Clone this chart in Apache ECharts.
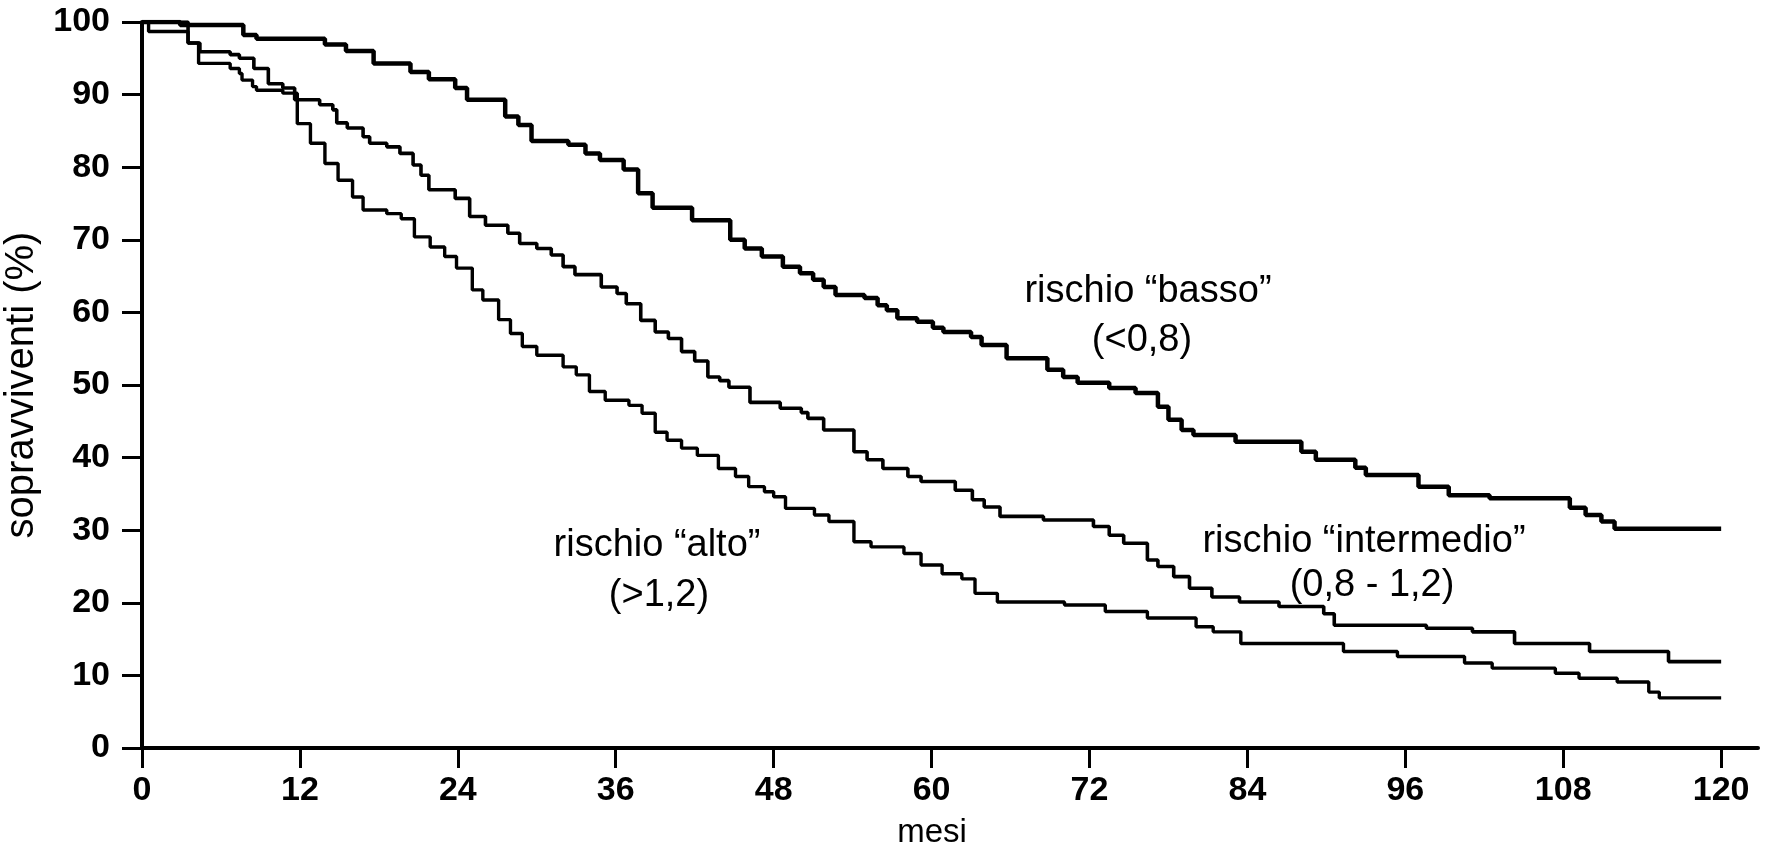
<!DOCTYPE html>
<html>
<head>
<meta charset="utf-8">
<script src="https://cdn.jsdelivr.net/npm/echarts@6/dist/echarts.min.js"></script>
<style>
  html, body { margin: 0; padding: 0; background: #fff; }
  #main { width: 1771px; height: 852px; }
</style>
</head>
<body>
<div id="main"></div>
<script>
// mesi / sopravviventi (%)
var bassoData = [
  [0,100],[2.9,99.6],[7.7,98.2],[8.7,97.7],[13.9,96.9],[15.5,96.0],[17.6,94.3],[20.4,93.1],
  [21.8,92.1],[23.8,90.9],[24.7,89.3],[27.6,87.0],[28.6,85.8],[29.6,83.6],[32.4,83.1],
  [33.7,81.9],[34.8,81.0],[36.6,79.7],[37.7,76.4],[38.8,74.4],[41.8,72.7],[44.7,70.0],
  [45.8,68.8],[47.1,67.7],[48.7,66.3],[50,65.4],[51,64.5],[51.8,63.5],[52.7,62.4],[54.9,62.0],
  [55.9,61.0],[56.6,60.3],[57.4,59.2],[58.9,58.7],[60.1,57.9],[60.9,57.3],[63,56.6],[63.8,55.5],
  [65.7,53.7],[68.8,52.1],[70,51.1],[71.1,50.3],[73.5,49.6],[75.5,48.9],[77.2,47.0],[78,45.2],
  [79,43.8],[79.9,43.1],[83.1,42.2],[88.1,40.8],[89.2,39.7],[92.2,38.6],[93,37.6],[97,36.0],
  [99.3,34.8],[102.4,34.4],[108.5,33.1],[109.7,32.1],[110.9,31.2],[111.9,30.2],[120,30.2]
];
var intermedioData = [
  [0,100],[3.5,97.1],[4.4,95.9],[6.7,95.5],[7.4,95.0],[8.5,93.6],[9.6,91.5],[10.7,90.9],
  [11.6,89.3],[13.5,88.6],[14.5,87.9],[14.8,86.1],[15.6,85.4],[16.8,84.2],[17.3,83.3],
  [18.6,82.8],[19.6,81.9],[20.6,80.3],[21.2,78.9],[21.8,76.9],[23.8,75.7],[24.9,73.2],
  [26.1,72.0],[27.8,70.9],[28.7,69.5],[30,68.8],[31.1,67.9],[32,66.3],[32.9,65.2],[34.9,63.5],
  [36.1,62.6],[36.8,61.2],[37.9,58.9],[39,57.3],[40,56.4],[41,54.6],[42,53.3],[43,51.1],
  [43.9,50.6],[44.6,49.7],[46.2,47.6],[48.5,46.8],[50.1,46.2],[50.6,45.4],[51.8,43.8],
  [54.1,40.8],[55.1,39.7],[56.3,38.5],[58.2,37.4],[59.2,36.7],[61.8,35.5],[63.1,34.2],[64,33.2],
  [65.2,31.9],[68.5,31.4],[72.3,30.5],[73.5,29.3],[74.6,28.2],[76.4,25.9],[77.2,25.0],
  [78.4,23.6],[79.6,22.0],[81.3,20.8],[83.4,20.1],[86.4,19.5],[89.8,18.5],[90.6,16.9],
  [97.6,16.5],[101.1,16.0],[104.3,14.4],[110,13.3],[116,11.9],[120,11.9]
];
var altoData = [
  [0,100],[0.5,98.7],[3.5,97.1],[4.3,94.3],[6.7,93.6],[7.4,92.9],[7.6,92.0],[8.4,91.1],
  [8.7,90.6],[10.7,90.2],[11.8,86.0],[12.8,83.3],[13.9,80.5],[14.9,78.2],[16,75.9],[16.8,74.1],
  [18.6,73.6],[19.7,72.9],[20.7,70.4],[21.9,69.0],[23,67.7],[23.9,66.1],[25.1,63.1],[25.9,61.7],
  [27.1,59.0],[28,57.1],[28.9,55.3],[30,54.1],[32,52.5],[33,51.4],[34,49.1],[35.2,47.9],
  [37,47.2],[38,46.1],[39,43.5],[39.9,42.4],[41,41.3],[42.2,40.3],[43.8,38.5],[45.1,37.4],
  [46.1,36.0],[47.3,35.3],[48,34.6],[48.9,33.0],[51.1,32.1],[52.2,31.2],[54.1,28.4],[55.4,27.7],
  [57.9,26.8],[59.2,25.2],[60.8,24.0],[62.3,23.3],[63.3,21.3],[65,20.1],[70.1,19.7],[73.2,18.8],
  [76.4,17.9],[80.1,16.7],[81.4,16.0],[83.5,14.4],[91.3,13.3],[95.4,12.6],[100.5,11.7],
  [102.6,11.0],[107.4,10.3],[109.2,9.6],[112.1,9.1],[114.5,7.7],[115.3,6.9],[120,6.9]
];
var xTicks = [0, 12, 24, 36, 48, 60, 72, 84, 96, 108, 120];

var FONT = '"Liberation Sans", Arial, Helvetica, sans-serif';

function curve(name, data, width) {
  return {
    name: name,
    type: 'line',
    step: 'end',
    symbol: 'none',
    silent: true,
    lineStyle: { color: '#000', width: width },
    data: data
  };
}

function note(text, x, y) {
  return {
    type: 'text',
    x: x,
    y: y,
    style: {
      text: text,
      fill: '#000',
      font: '38px ' + FONT,
      align: 'center',
      verticalAlign: 'middle'
    }
  };
}

var myChart = echarts.init(document.getElementById('main'));
var option = {
  backgroundColor: '#fff',
  animation: false,
  grid: {
    left: 142,
    right: 13,
    top: 22,
    bottom: 104,
    outerBoundsMode: 'none'
  },
  xAxis: {
    type: 'value',
    min: 0,
    max: 122.8,
    interval: 12,
    name: 'mesi',
    nameLocation: 'middle',
    nameGap: 68,
    nameTextStyle: { fontSize: 33, color: '#000', fontFamily: FONT, padding: [0, 36, 0, 0] },
    axisLine: { onZero: false, lineStyle: { color: '#000', width: 4 } },
    axisTick: { inside: false, length: 20, customValues: xTicks, lineStyle: { color: '#000', width: 3 } },
    axisLabel: {
      customValues: xTicks,
      margin: 26,
      fontSize: 34,
      fontWeight: 'bold',
      color: '#000',
      fontFamily: FONT
    },
    splitLine: { show: false }
  },
  yAxis: {
    type: 'value',
    min: 0,
    max: 100,
    interval: 10,
    name: 'sopravviventi (%)',
    nameLocation: 'middle',
    nameGap: 90,
    nameTextStyle: { fontSize: 40, color: '#000', fontFamily: FONT },
    axisLine: { show: true, lineStyle: { color: '#000', width: 4 } },
    axisTick: { show: true, inside: false, length: 20, lineStyle: { color: '#000', width: 3 } },
    axisLabel: {
      margin: 32,
      fontSize: 34,
      fontWeight: 'bold',
      color: '#000',
      fontFamily: FONT
    },
    splitLine: { show: false }
  },
  series: [
    curve('rischio basso', bassoData, 4.5),
    curve('rischio intermedio', intermedioData, 3.6),
    curve('rischio alto', altoData, 3.4)
  ],
  graphic: [
    note('rischio \u201cbasso\u201d', 1148, 292),
    note('(<0,8)', 1142, 341),
    note('rischio \u201calto\u201d', 657, 546),
    note('(>1,2)', 659, 596),
    note('rischio \u201cintermedio\u201d', 1364, 542),
    note('(0,8 - 1,2)', 1372, 586)
  ]
};
myChart.setOption(option);
</script>
</body>
</html>
